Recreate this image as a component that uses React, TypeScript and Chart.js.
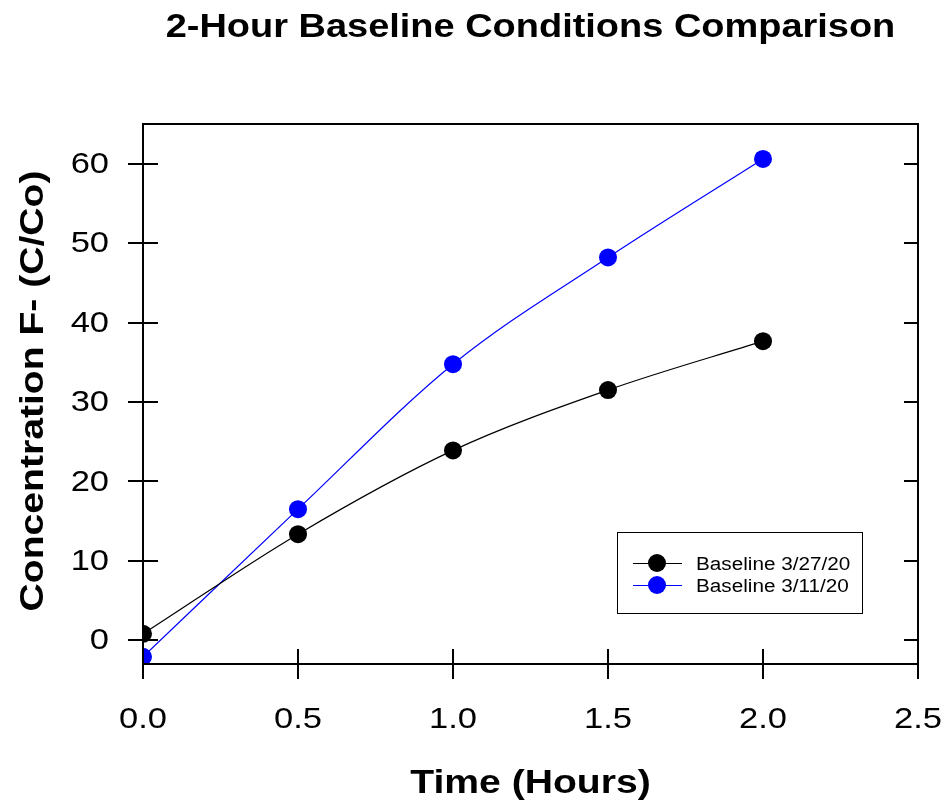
import React, { useEffect, useRef } from "react";
import { Chart, registerables } from "chart.js";

Chart.register(...registerables);

const FONT = '"Liberation Sans", Arial, Helvetica, sans-serif';
const SX = 1.15;

const chartTitle = "2-Hour Baseline Conditions Comparison";
const xAxisTitle = "Time (Hours)";
const yAxisTitle = "Concentration F- (C/Co)";

const timeHours = [0, 0.5, 1.0, 1.5, 2.0];
const baseline0327 = [0.8, 13.35, 23.9, 31.5, 37.65];
const baseline0311 = [-2.1, 16.5, 34.75, 48.2, 60.6];
const seriesLabels = ["Baseline 3/27/20", "Baseline 3/11/20"];
const seriesColors = ["#000000", "#0000ff"];

const xTicks = [0, 0.5, 1.0, 1.5, 2.0, 2.5];
const yTicks = [0, 10, 20, 30, 40, 50, 60];
const xRange = [0, 2.5];
const yRange = [-3, 65];

function drawText(
  ctx: CanvasRenderingContext2D,
  text: string,
  x: number,
  y: number,
  font: string,
  align: CanvasTextAlign,
  baseline: CanvasTextBaseline,
  rotate = 0
) {
  ctx.save();
  ctx.translate(x, y);
  if (rotate) ctx.rotate(rotate);
  ctx.scale(SX, 1);
  ctx.font = font;
  ctx.textAlign = align;
  ctx.textBaseline = baseline;
  ctx.fillStyle = "#000";
  ctx.fillText(text, 0, 0);
  ctx.restore();
}

const framePlugin = {
  id: "frame",
  afterDraw(chart: any) {
    const { ctx, chartArea } = chart;
    const { left, right, top, bottom } = chartArea;
    const xs = chart.scales.x;
    const ys = chart.scales.y;
    ctx.save();
    ctx.strokeStyle = "#000";
    ctx.lineWidth = 2;
    ctx.strokeRect(left, top, right - left, bottom - top);
    ctx.beginPath();
    for (const v of yTicks) {
      const y = Math.round(ys.getPixelForValue(v));
      ctx.moveTo(left - 15, y);
      ctx.lineTo(left + 15, y);
      ctx.moveTo(right - 14, y);
      ctx.lineTo(right, y);
    }
    for (const v of xTicks) {
      const x = Math.round(xs.getPixelForValue(v));
      ctx.moveTo(x, bottom - 15);
      ctx.lineTo(x, bottom + 15);
    }
    ctx.stroke();

    // tick labels
    const tickFont = `30px ${FONT}`;
    ys.ticks.forEach((t: any) => {
      drawText(ctx, String(t.value), left - 34, ys.getPixelForValue(t.value) + 1, tickFont, "right", "middle");
    });
    xs.ticks.forEach((t: any) => {
      drawText(ctx, Number(t.value).toFixed(1), xs.getPixelForValue(t.value), 728, tickFont, "center", "alphabetic");
    });

    // titles
    drawText(ctx, chartTitle, (left + right) / 2, 37, `bold 33px ${FONT}`, "center", "alphabetic");
    drawText(ctx, xAxisTitle, (left + right) / 2, 793, `bold 34px ${FONT}`, "center", "alphabetic");
    drawText(ctx, yAxisTitle, 43, 391, `bold 34px ${FONT}`, "center", "alphabetic", -Math.PI / 2);

    // legend
    const bx = 617, by = 532, bw = 245, bh = 81;
    ctx.lineWidth = 1;
    ctx.strokeStyle = "#000";
    ctx.strokeRect(bx + 0.5, by + 0.5, bw, bh);
    const rows = [563, 585];
    chart.data.datasets.forEach((ds: any, i: number) => {
      const y = rows[i];
      ctx.strokeStyle = ds.borderColor;
      ctx.lineWidth = 1.2;
      ctx.beginPath();
      ctx.moveTo(633, y + 0.5);
      ctx.lineTo(682, y + 0.5);
      ctx.stroke();
      ctx.fillStyle = ds.pointBackgroundColor;
      ctx.beginPath();
      ctx.arc(657, y, 9, 0, Math.PI * 2);
      ctx.fill();
      drawText(ctx, ds.label, 696, y + 7, `18px ${FONT}`, "left", "alphabetic");
    });
    ctx.restore();
  },
};

export default function App() {
  const ref = useRef<HTMLCanvasElement>(null);
  useEffect(() => {
    document.body.style.margin = "0";
    const mk = (data: number[]) => timeHours.map((x, i) => ({ x, y: data[i] }));
    const chart = new Chart(ref.current!, {
      type: "line",
      data: {
        datasets: seriesLabels.map((label, i) => ({
          label,
          data: mk(i === 0 ? baseline0327 : baseline0311),
          borderColor: seriesColors[i],
          backgroundColor: seriesColors[i],
          pointBackgroundColor: seriesColors[i],
          pointBorderWidth: 0,
          pointRadius: 9,
          borderWidth: 1.2,
          cubicInterpolationMode: "monotone" as const,
        })),
      },
      options: {
        responsive: false,
        animation: false,
        devicePixelRatio: 1,
        layout: { padding: { top: 124, right: 29, left: 0, bottom: 0 } },
        plugins: { legend: { display: false }, tooltip: { enabled: false }, title: { display: false } },
        scales: {
          x: {
            type: "linear",
            min: xRange[0],
            max: xRange[1],
            afterBuildTicks: (s: any) => {
              s.ticks = xTicks.map((v) => ({ value: v }));
            },
            afterFit: (s: any) => {
              s.height = 138;
              s.paddingLeft = 0;
              s.paddingRight = 0;
            },
            grid: { display: false, drawTicks: false },
            border: { display: false },
            ticks: { display: false },
          },
          y: {
            type: "linear",
            min: yRange[0],
            max: yRange[1],
            afterBuildTicks: (s: any) => {
              s.ticks = yTicks.map((v) => ({ value: v }));
            },
            afterFit: (s: any) => {
              s.width = 143;
              s.paddingTop = 0;
              s.paddingBottom = 0;
            },
            grid: { display: false, drawTicks: false },
            border: { display: false },
            ticks: { display: false },
          },
        },
      },
      plugins: [framePlugin],
    });
    return () => chart.destroy();
  }, []);
  return <canvas ref={ref} width={947} height={802} />;
}
